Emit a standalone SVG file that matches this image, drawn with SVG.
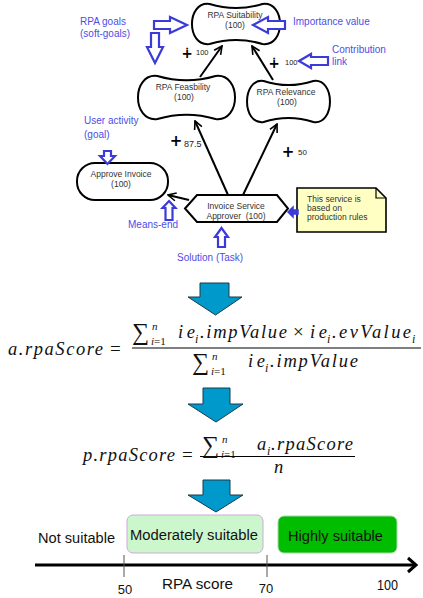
<svg xmlns="http://www.w3.org/2000/svg" width="423" height="598" viewBox="0 0 423 598">
<defs>
<style>
.node{fill:#fff;stroke:#000;stroke-width:2}
.nt{font-family:"Liberation Sans",Arial,sans-serif;font-size:8.5px;fill:#333;text-anchor:middle}
.bl{font-family:"Liberation Sans",Arial,sans-serif;font-size:10px;fill:#4d4de6}
.ba{fill:#fff;stroke:#3b3bd9;stroke-width:2.2;stroke-linejoin:miter}
.lk{stroke:#000;stroke-width:2;fill:none;marker-end:url(#ah)}
.plus{font-family:"DejaVu Sans",sans-serif;font-weight:bold;fill:#000;text-anchor:middle}
.cv{font-family:"Liberation Sans",Arial,sans-serif;fill:#222}
.mi{font-family:"Liberation Serif","Times New Roman",serif;font-style:italic;fill:#111}
.mr{font-family:"Liberation Serif","Times New Roman",serif;fill:#111}
.big{fill:#0099cc;stroke:#1b3b4b;stroke-width:1}
.sc{font-family:"Liberation Sans",Arial,sans-serif;fill:#111}
</style>
<marker id="ah" viewBox="0 0 10 10" refX="9" refY="5" markerWidth="10" markerHeight="10" markerUnits="userSpaceOnUse" orient="auto">
<path d="M1,1 L9,5 L1,9" fill="none" stroke="#000" stroke-width="1.6"/>
</marker>
</defs>
<rect width="423" height="598" fill="#fff"/>

<g id="connectors">
<line class="lk" x1="200" y1="77" x2="222" y2="46"/>
<line class="lk" x1="273" y1="80" x2="252" y2="46"/>
<line class="lk" x1="228" y1="195" x2="195" y2="121"/>
<line class="lk" x1="243" y1="195" x2="277" y2="124"/>
<line class="lk" x1="189" y1="200" x2="168" y2="195"/>
</g>

<g id="rpa-suitability">
<path class="node" d="M209.6 4 C227.2 9.3,244.8 9.3,262.4 4 C285.9 1,285.9 47,262.4 44 C244.8 38.7,227.2 38.7,209.6 44 C186.1 47,186.1 1,209.6 4 Z"/>
<text class="nt" x="235" y="18">RPA Suitability</text>
<text class="nt" x="235" y="28">(100)</text>
</g>
<g id="rpa-feasibility">
<path class="node" d="M157.4 76 C176.8 81.75,196.2 81.75,215.6 76 C241.5 72.75,241.5 122.25,215.6 119 C196.2 113.25,176.8 113.25,157.4 119 C131.5 122.25,131.5 72.75,157.4 76 Z"/>
<text class="nt" x="183" y="90">RPA Feasbility</text>
<text class="nt" x="184" y="100">(100)</text>
</g>
<g id="rpa-relevance">
<path class="node" d="M263.6 81 C280.2 86.45,296.8 86.45,313.4 81 C335.5 77.85,335.5 125.15,313.4 122 C296.8 116.55,280.2 116.55,263.6 122 C241.5 125.15,241.5 77.85,263.6 81 Z"/>
<text class="nt" x="286" y="95">RPA Relevance</text>
<text class="nt" x="287" y="105">(100)</text>
</g>
<g id="approve-invoice">
<rect class="node" x="77" y="163" width="91" height="37" rx="18" ry="18"/>
<text class="nt" x="121" y="177">Approve Invoice</text>
<text class="nt" x="121" y="187">(100)</text>
</g>
<g id="invoice-service-approver">
<polygon class="node" points="185,208.5 197,195 277,195 288,208.5 277,222 197,222"/>
<text class="nt" x="236" y="209">Invoice Service</text>
<text class="nt" x="236" y="219" xml:space="preserve">Approver  (100)</text>
</g>
<g id="note">
<path d="M297 188 L376 188 L386 198 L386 232 L297 232 Z" fill="#ffffc4" stroke="#000" stroke-width="1.6"/>
<path d="M376 188 L376 198 L386 198" fill="none" stroke="#000" stroke-width="1.2"/>
<text class="nt" x="307" y="202" style="text-anchor:start">This service is</text>
<text class="nt" x="307" y="211" style="text-anchor:start">based on</text>
<text class="nt" x="307" y="220" style="text-anchor:start">production rules</text>
</g>

<g id="contribution-labels">
<text class="plus" x="187" y="58" font-size="14">∔</text>
<text class="cv" x="196" y="55" font-size="7.5">100</text>
<text class="plus" x="274" y="68" font-size="14">∔</text>
<text class="cv" x="285" y="65" font-size="7.5">100</text>
<text class="plus" x="176" y="146" font-size="15">+</text>
<text class="cv" x="184" y="147" font-size="9">87.5</text>
<text class="plus" x="288" y="157" font-size="15">+</text>
<text class="cv" x="298" y="155" font-size="8">50</text>
</g>

<g id="annotations">
<polygon class="ba" points="154,21 170,21 170,17 187,25 170,33 170,29 154,29"/>
<polygon class="ba" points="151,33 159,33 159,47 163,47 155,63 147,47 151,47"/>
<polygon class="ba" points="253,25 268,17 268,21 285,21 285,29 268,29 268,33"/>
<polygon class="ba" points="299,61 311,54 311,57 328,57 328,65 311,65 311,68"/>
<polygon class="ba" points="104,151 111,151 111,156 115,156 107.5,164 100,156 104,156"/>
<polygon class="ba" points="169,201 175.5,208 172.5,208 172.5,220 165.5,220 165.5,208 162.5,208"/>
<polygon class="ba" points="221.5,228 228,237 225,237 225,247 218,247 218,237 215,237"/>
<polygon points="288,212 293,207 293,210 298,210 298,214 293,214 293,217" fill="#3b3bd9" stroke="#3b3bd9" stroke-width="1.5"/>
<text class="bl" x="80" y="25">RPA goals</text>
<text class="bl" x="80" y="37">(soft-goals)</text>
<text class="bl" x="293" y="25">Importance value</text>
<text class="bl" x="332" y="53">Contribution</text>
<text class="bl" x="332" y="65">link</text>
<text class="bl" x="84" y="124">User activity</text>
<text class="bl" x="84" y="138">(goal)</text>
<text class="bl" x="128" y="228">Means-end</text>
<text class="bl" x="177" y="261">Solution (Task)</text>
</g>

<g id="arrow-1"><polygon class="big" points="200,283 229,283 229,297 242,297 215.5,315 188,297 200,297"/></g>

<g id="formula-1">
<text class="mi" x="8" y="355" font-size="18.5" textLength="95" lengthAdjust="spacing">a.rpaScore</text>
<text class="mr" x="110" y="355" font-size="19">=</text>
<line x1="132" y1="348" x2="421" y2="348" stroke="#000" stroke-width="1"/>
<text class="mr" x="132" y="340" font-size="24">∑</text>
<text class="mi" x="152" y="330" font-size="11">n</text>
<text class="mr" x="151" y="345" font-size="11"><tspan font-style="italic">i</tspan>=1</text>
<text class="mi" x="178" y="338" font-size="18.5" textLength="17" lengthAdjust="spacing">ie</text>
<text class="mi" x="195" y="343" font-size="12">i</text>
<text class="mi" x="200" y="338" font-size="18.5" textLength="87" lengthAdjust="spacing">.impValue</text>
<text class="mr" x="293" y="338" font-size="19">×</text>
<text class="mi" x="310" y="338" font-size="18.5" textLength="17" lengthAdjust="spacing">ie</text>
<text class="mi" x="327" y="343" font-size="12">i</text>
<text class="mi" x="332" y="338" font-size="18.5" textLength="79" lengthAdjust="spacing">.evValue</text>
<text class="mi" x="412" y="343" font-size="12">i</text>
<text class="mr" x="192" y="370" font-size="24">∑</text>
<text class="mi" x="212" y="360" font-size="11">n</text>
<text class="mr" x="211" y="375" font-size="11"><tspan font-style="italic">i</tspan>=1</text>
<text class="mi" x="248" y="367" font-size="18.5" textLength="17" lengthAdjust="spacing">ie</text>
<text class="mi" x="265" y="372" font-size="12">i</text>
<text class="mi" x="270" y="367" font-size="18.5" textLength="88" lengthAdjust="spacing">.impValue</text>
</g>

<g id="arrow-2"><polygon class="big" points="203,388 230,388 230,404 243,404 216,422 188,404 203,404"/></g>

<g id="formula-2">
<text class="mi" x="83" y="461" font-size="18.5" textLength="92" lengthAdjust="spacing">p.rpaScore</text>
<text class="mr" x="182" y="461" font-size="19">=</text>
<line x1="200" y1="456.5" x2="355" y2="456.5" stroke="#000" stroke-width="1"/>
<text class="mr" x="202" y="453" font-size="24">∑</text>
<text class="mi" x="222" y="443" font-size="11">n</text>
<text class="mr" x="221" y="458" font-size="11"><tspan font-style="italic">i</tspan>=1</text>
<text class="mi" x="257" y="450" font-size="18.5">a</text>
<text class="mi" x="267" y="455" font-size="12">i</text>
<text class="mi" x="271" y="450" font-size="18.5" textLength="82" lengthAdjust="spacing">.rpaScore</text>
<text class="mi" x="274" y="473" font-size="18.5">n</text>
</g>

<g id="arrow-3"><polygon class="big" points="203,480 230,480 230,495 243,495 216,512 188,495 203,495"/></g>

<g id="scale">
<rect x="127" y="515" width="136" height="38" rx="6" fill="#ccf7cc" stroke="#cfa8dd" stroke-width="1"/>
<rect x="278" y="516" width="119" height="37" rx="6" fill="#00bd00" stroke="#a8d8a8" stroke-width="1"/>
<text class="sc" x="38" y="543" font-size="14" textLength="77" lengthAdjust="spacingAndGlyphs">Not suitable</text>
<text class="sc" x="130" y="540" font-size="14" textLength="128" lengthAdjust="spacingAndGlyphs">Moderately suitable</text>
<text class="sc" x="288" y="541" font-size="14" textLength="95" lengthAdjust="spacingAndGlyphs">Highly suitable</text>
<line x1="35" y1="565" x2="415" y2="565" stroke="#000" stroke-width="3"/>
<path d="M408 558 L416 565 L408 572" fill="none" stroke="#000" stroke-width="3"/>
<line x1="124" y1="555" x2="124" y2="577" stroke="#555" stroke-width="1"/>
<line x1="267" y1="555" x2="267" y2="577" stroke="#555" stroke-width="1"/>
<text class="sc" x="125" y="594" font-size="13" text-anchor="middle">50</text>
<text class="sc" x="266" y="593" font-size="13" text-anchor="middle">70</text>
<text class="sc" x="162" y="589" font-size="15" textLength="71" lengthAdjust="spacingAndGlyphs">RPA score</text>
<text class="sc" x="377" y="590" font-size="14" textLength="21" lengthAdjust="spacingAndGlyphs">100</text>
</g>
</svg>
